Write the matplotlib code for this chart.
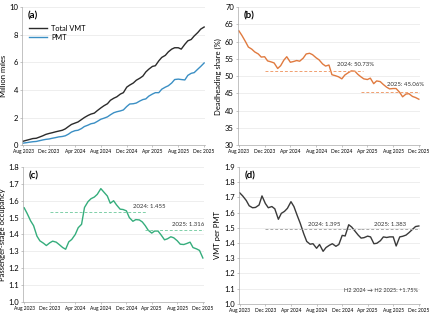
import pandas as pd
import matplotlib
matplotlib.use('Agg')
import matplotlib.pyplot as plt
import matplotlib.dates as mdates

# semi-monthly observations, Aug 2023 .. Dec 2025
dates = pd.date_range('2023-08-01', '2025-12-01', freq='SMS')

total_vmt = [0.29, 0.35, 0.42, 0.48, 0.50, 0.58, 0.68, 0.78, 0.85, 0.90,
             0.97, 1.02, 1.08, 1.18, 1.35, 1.50, 1.60, 1.68, 1.85, 2.00,
             2.15, 2.25, 2.32, 2.50, 2.70, 2.85, 3.00, 3.25, 3.40, 3.50,
             3.70, 3.80, 4.20, 4.35, 4.50, 4.70, 4.85, 5.00, 5.30, 5.50,
             5.70, 5.75, 6.10, 6.35, 6.50, 6.75, 6.95, 7.05, 7.05, 6.95,
             7.30, 7.55, 7.65, 7.90, 8.15, 8.40, 8.55]
pmt = [0.15, 0.18, 0.22, 0.25, 0.27, 0.32, 0.38, 0.42, 0.45, 0.50,
       0.55, 0.60, 0.63, 0.68, 0.80, 0.95, 1.05, 1.08, 1.20, 1.35,
       1.45, 1.55, 1.60, 1.72, 1.88, 1.95, 2.05, 2.20, 2.35, 2.42,
       2.48, 2.55, 2.80, 2.98, 3.00, 3.05, 3.20, 3.30, 3.35, 3.55,
       3.70, 3.80, 3.80, 4.05, 4.20, 4.30, 4.50, 4.75, 4.78, 4.75,
       4.72, 5.05, 5.20, 5.25, 5.50, 5.70, 5.95]
deadhead = [63.1, 61.8, 60.0, 58.4, 57.8, 57.0, 56.4, 55.5, 55.6, 54.4,
            54.1, 53.8, 52.2, 53.0, 54.6, 55.6, 54.0, 54.2, 54.5, 54.3,
            55.2, 56.4, 56.6, 56.2, 55.3, 54.7, 53.5, 52.9, 53.2, 50.4,
            50.1, 49.8, 49.2, 50.3, 51.0, 51.5, 51.4, 50.5, 49.8, 49.2,
            49.0, 49.4, 47.8, 48.6, 48.4, 47.6, 46.8, 46.3, 46.4, 46.4,
            45.3, 44.0, 44.8, 44.9, 44.1, 43.8, 43.3]
occupancy = [1.558, 1.525, 1.480, 1.452, 1.390, 1.362, 1.348, 1.334, 1.350, 1.360,
             1.354, 1.340, 1.322, 1.312, 1.356, 1.370, 1.400, 1.440, 1.460, 1.560,
             1.595, 1.612, 1.622, 1.638, 1.672, 1.652, 1.628, 1.585, 1.600, 1.575,
             1.550, 1.548, 1.540, 1.500, 1.478, 1.488, 1.486, 1.474, 1.452, 1.425,
             1.408, 1.420, 1.420, 1.398, 1.368, 1.374, 1.386, 1.380, 1.362, 1.342,
             1.340, 1.346, 1.354, 1.322, 1.314, 1.305, 1.260]
vmt_per_pmt = [1.730, 1.710, 1.680, 1.645, 1.632, 1.634, 1.650, 1.710, 1.660, 1.632,
               1.640, 1.625, 1.556, 1.595, 1.608, 1.628, 1.672, 1.640, 1.580, 1.530,
               1.460, 1.410, 1.392, 1.395, 1.365, 1.390, 1.345, 1.370, 1.385, 1.395,
               1.378, 1.390, 1.450, 1.446, 1.520, 1.505, 1.476, 1.452, 1.432, 1.435,
               1.445, 1.440, 1.395, 1.398, 1.415, 1.440, 1.436, 1.440, 1.440, 1.380,
               1.440, 1.444, 1.452, 1.468, 1.490, 1.508, 1.512]

# dashed yearly reference levels (as drawn) and their labels
ref_spans = [('2023-12-01', '2025-03-10'), ('2025-03-01', '2025-12-10')]
deadhead_refs = [51.5, 45.4]
deadhead_labels = ['2024: 50.73%', '2025: 45.06%']
occupancy_refs = [1.534, 1.426]
occupancy_labels = ['2024: 1.455', '2025: 1.316']
vpp_refs = [1.493, 1.490]
vpp_labels = ['2024: 1.395', '2025: 1.383']

BLACK = '#2b2b2b'
BLUE = '#3b8fc4'
ORANGE = '#e07a3f'
GREEN = '#35ad7c'
GRAY = '#3a3a3a'

plt.rcParams['font.family'] = ['Lato', 'DejaVu Sans']
fig = plt.figure(figsize=(4.32, 3.17), dpi=100)
ax_a = fig.add_axes([0.052, 0.542, 0.423, 0.436])
ax_b = fig.add_axes([0.551, 0.542, 0.421, 0.436])
ax_c = fig.add_axes([0.054, 0.048, 0.418, 0.425])
ax_d = fig.add_axes([0.553, 0.042, 0.419, 0.431])

xticks = pd.date_range('2023-08-01', '2025-12-01', freq='4MS')
xlim = (pd.Timestamp('2023-07-28'), pd.Timestamp('2025-12-06'))


def style(ax, ylim, step, label):
    ax.set_xlim(xlim)
    ax.set_ylim(ylim)
    ax.set_xticks(xticks)
    ax.xaxis.set_major_formatter(mdates.DateFormatter('%b %Y'))
    yt = [round(ylim[0] + k * step, 3) for k in range(int(round((ylim[1] - ylim[0]) / step)) + 1)]
    ax.set_yticks(yt)
    ax.tick_params(axis='x', labelsize=3.5, length=1.5, width=0.4, color='#999999', pad=1.5)
    ax.tick_params(axis='y', labelsize=5.5, length=1.5, width=0.4, color='#999999', pad=1.5)
    ax.grid(axis='y', color='#e8e8e8', linewidth=0.5)
    ax.set_axisbelow(True)
    for s in ['top', 'right']:
        ax.spines[s].set_visible(False)
    for s in ['left', 'bottom']:
        ax.spines[s].set_color('#aaaaaa')
        ax.spines[s].set_linewidth(0.5)
    ax.set_ylabel(label, fontsize=5.5, labelpad=2)


def refs(ax, levels, labels, color, ls, offsets):
    for (a, b), lv, lab, (tx, dy) in zip(ref_spans, levels, labels, offsets):
        ax.hlines(lv, pd.Timestamp(a), pd.Timestamp(b), colors=color, linestyles=ls, linewidth=0.7)
        ax.text(pd.Timestamp(tx), lv + dy, lab, fontsize=4.3, color='#333333', ha='left', va='bottom')


# (a)
ax_a.plot(dates, total_vmt, color=BLACK, lw=1.0, label='Total VMT')
ax_a.plot(dates, pmt, color=BLUE, lw=1.0, label='PMT')
style(ax_a, (0, 10), 2, 'Million miles')
ax_a.legend(loc='upper left', bbox_to_anchor=(0.0, 0.92), frameon=False, fontsize=5.3,
            handlelength=2.4, handletextpad=0.6, labelspacing=0.3)
ax_a.text(0.03, 0.97, '(a)', transform=ax_a.transAxes, fontsize=7, fontweight='bold', va='top')

# (b)
ax_b.plot(dates, deadhead, color=ORANGE, lw=1.0)
style(ax_b, (30, 70), 5, 'Deadheading share (%)')
refs(ax_b, deadhead_refs, deadhead_labels, '#f0a070', (0, (3, 2)),
     [('2024-11-07', 1.2), ('2025-07-05', 1.3)])
ax_b.text(0.03, 0.97, '(b)', transform=ax_b.transAxes, fontsize=7, fontweight='bold', va='top')

# (c)
ax_c.plot(dates, occupancy, color=GREEN, lw=1.0)
style(ax_c, (1.0, 1.8), 0.1, 'Passenger-stage occupancy')
refs(ax_c, occupancy_refs, occupancy_labels, '#7fcfa8', (0, (3, 2)),
     [('2025-01-01', 0.018), ('2025-07-05', 0.016)])
ax_c.text(0.03, 0.97, '(c)', transform=ax_c.transAxes, fontsize=7, fontweight='bold', va='top')

# (d)
ax_d.plot(dates, vmt_per_pmt, color=GRAY, lw=1.0)
style(ax_d, (1.0, 1.9), 0.1, 'VMT per PMT')
refs(ax_d, vpp_refs, vpp_labels, '#aaaaaa', (0, (3, 2)),
     [('2024-06-22', 0.012), ('2025-05-01', 0.012)])
ax_d.text(0.03, 0.97, '(d)', transform=ax_d.transAxes, fontsize=7, fontweight='bold', va='top')
ax_d.text(0.99, 0.095, 'H2 2024 \u2192 H2 2025: +1.75%', transform=ax_d.transAxes,
          fontsize=4.1, color='#333333', ha='right', va='center')

fig.savefig('out.png', dpi=100)
